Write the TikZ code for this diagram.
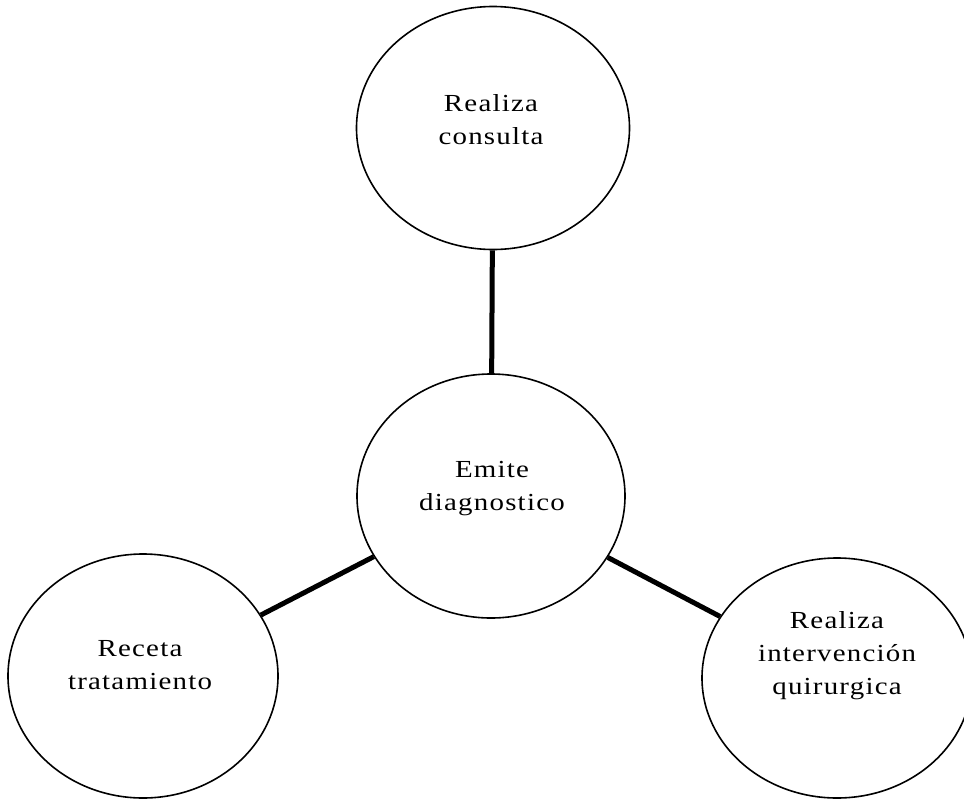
\documentclass[tikz,border=0pt]{standalone}
\usepackage{fontspec}
\setmainfont{Liberation Serif}[FakeStretch=1.18, LetterSpace=5]
\usetikzlibrary{shapes.geometric}
\tikzset{
  bubble/.style={draw=black, line width=1.6pt, ellipse, inner sep=0pt},
  link/.style={line width=5pt, draw=black},
  lbl/.style={anchor=north, inner sep=0pt, align=center, font={\fontsize{24.5}{33}\selectfont}}
}
\begin{document}
\begin{tikzpicture}[x=1pt,y=-1pt]
\useasboundingbox (0,0) rectangle (964,801);
\clip (0,0) rectangle (964,801);
\node[bubble, minimum width=273pt, minimum height=243pt] (top) at (493,128) {};
\node[bubble, minimum width=268pt, minimum height=244pt] (mid) at (491,496) {};
\node[bubble, minimum width=270pt, minimum height=244pt] (left) at (143,676) {};
\node[bubble, minimum width=270pt, minimum height=240pt] (right) at (837,678) {};
\draw[link] (top) -- (mid);
\draw[link] (mid) -- (left);
\draw[link] (mid) -- (right);
\node[lbl] (ttop) at (491,88) {\strut Realiza\\\strut consulta};
\node[lbl] (tmid) at (492,454) {\strut Emite\\\strut diagnostico};
\node[lbl] (tleft) at (140,633) {\strut Receta\\\strut tratamiento};
\node[lbl] (tright) at (837,605) {\strut Realiza\\\strut intervención\\\strut quirurgica};
\end{tikzpicture}
\end{document}
